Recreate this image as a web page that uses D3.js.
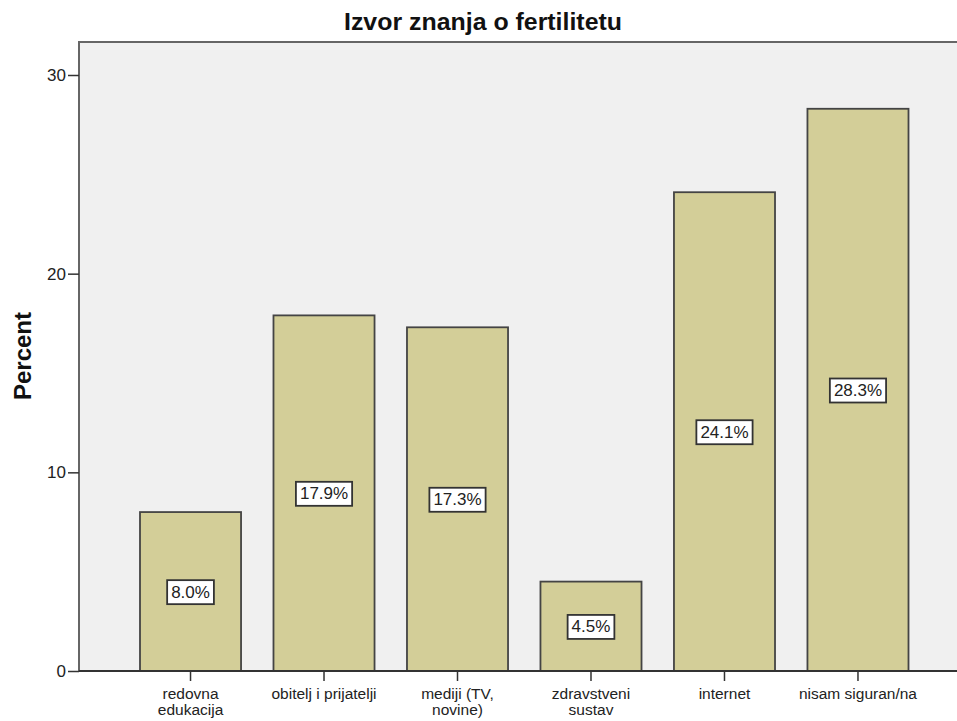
<!DOCTYPE html>
<html><head><meta charset="utf-8">
<script src="https://cdn.jsdelivr.net/npm/d3@7"></script>
<style>body{margin:0;background:#fff}svg{display:block}text{font-family:Arial,"Liberation Sans",sans-serif}</style>
</head><body>
<svg id="c" width="957" height="721"></svg>
<script>
const categories = [["redovna","edukacija"],["obitelj i prijatelji"],["mediji (TV,","novine)"],["zdravstveni","sustav"],["internet"],["nisam siguran/na"]];
const values = [8.0, 17.9, 17.3, 4.5, 24.1, 28.3];
const valueLabels = ["8.0%","17.9%","17.3%","4.5%","24.1%","28.3%"];
const yTicks = [0, 10, 20, 30];

(function(){
const svg = d3.select("#c");
const pLeft = 79, pRight = 960, pTop = 42, pBottom = 671;
const y = d3.scaleLinear().domain([0, 30]).range([pBottom, 75]);
const x = d3.scaleBand().domain(d3.range(values.length)).range([140, 908.5]).paddingInner(0.243).paddingOuter(0);

svg.append("rect").attr("x", pLeft).attr("y", pTop).attr("width", pRight-pLeft).attr("height", pBottom-pTop)
  .attr("fill", "#f0f0f0").attr("stroke", "#666").attr("stroke-width", 2);

svg.append("text").attr("x", 483).attr("y", 30).attr("text-anchor", "middle")
  .attr("font-size", 23).attr("font-weight", "bold").attr("fill", "#111")
  .attr("textLength", 278).attr("lengthAdjust", "spacingAndGlyphs").text("Izvor znanja o fertilitetu");

svg.append("text").attr("transform", "translate(31,356) rotate(-90)").attr("text-anchor", "middle")
  .attr("font-size", 23).attr("font-weight", "bold").attr("fill", "#111")
  .attr("textLength", 88).attr("lengthAdjust", "spacingAndGlyphs").text("Percent");

const ya = svg.append("g").attr("transform", `translate(${pLeft},0)`)
  .call(d3.axisLeft(y).tickValues(yTicks).tickSize(11).tickPadding(2));
ya.select(".domain").remove();
ya.selectAll("line").attr("stroke", "#333").attr("stroke-width", 1.5);
ya.selectAll("text").attr("font-size", 17).attr("fill", "#222").style("font-family", "Arial, 'Liberation Sans', sans-serif");

svg.selectAll("rect.bar").data(values).join("rect").attr("class", "bar")
  .attr("x", (d,i) => x(i)).attr("width", x.bandwidth())
  .attr("y", d => y(d)).attr("height", d => pBottom - y(d))
  .attr("fill", "#d3ce98").attr("stroke", "#444").attr("stroke-width", 1.8);

svg.append("line").attr("x1", pLeft).attr("x2", pRight).attr("y1", pBottom).attr("y2", pBottom)
  .attr("stroke", "#333").attr("stroke-width", 1.8);

const xa = svg.append("g").attr("transform", `translate(0,${pBottom})`)
  .call(d3.axisBottom(x).tickSize(10).tickFormat(""));
xa.select(".domain").remove();
xa.selectAll("line").attr("stroke", "#333").attr("stroke-width", 1.5);

categories.forEach((lines, i) => {
  const cx = x(i) + x.bandwidth()/2;
  const t = svg.append("text").attr("x", cx).attr("y", 699)
    .attr("text-anchor", "middle").attr("font-size", 15.5).attr("fill", "#222");
  lines.forEach((l, j) => t.append("tspan").attr("x", cx).attr("dy", j ? 16 : 0).text(l));
});

const lg = svg.selectAll("g.lbl").data(values).join("g").attr("class", "lbl")
  .attr("transform", (d,i) => `translate(${x(i)+x.bandwidth()/2},${y(d/2)})`);
lg.append("text").attr("text-anchor", "middle").attr("dy", "0.36em").attr("font-size", 17).attr("fill", "#222")
  .text((d,i) => valueLabels[i]);
lg.each(function() {
  const g = d3.select(this), bb = g.select("text").node().getBBox();
  g.insert("rect", "text").attr("x", bb.x - 4).attr("y", bb.y - 2.5).attr("width", bb.width + 8).attr("height", bb.height + 5)
    .attr("fill", "#fff").attr("stroke", "#333").attr("stroke-width", 1.8);
});
})();
</script>
</body></html>
